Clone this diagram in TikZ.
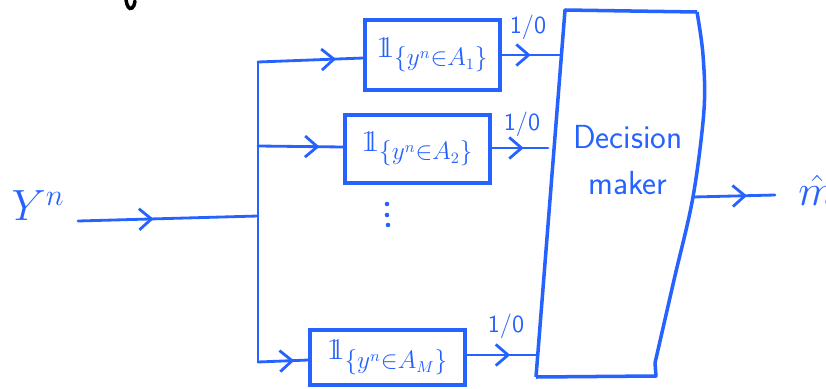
\documentclass[tikz,border=0pt]{standalone}
\usetikzlibrary{arrows.meta,decorations.markings}
\definecolor{ink}{RGB}{38,98,255}
\newcommand{\indic}{\mathrm{1}\mkern-6mu\mathrm{1}}
\tikzset{
  inkline/.style={draw=ink, line width=1.6pt, line cap=round, line join=round},
  midarrow/.style={inkline, postaction={decorate},
    decoration={markings, mark=at position #1 with {\arrow{Straight Barb[length=7pt,width=12pt]}}}},
  ibox/.style={draw=ink, line width=1.8pt, text=ink, inner sep=0pt,
    font=\fontsize{19}{22}\selectfont},
  lbl/.style={text=ink, font=\sffamily\fontsize{14}{16}\selectfont, inner sep=0pt},
  biglbl/.style={text=ink, font=\fontsize{26}{30}\selectfont, inner sep=0pt},
  dmtext/.style={text=ink, align=center, font=\sffamily\fontsize{19}{26}\selectfont, inner sep=0pt},
  dot/.style={circle, fill=ink, inner sep=0pt, minimum size=2.6pt}
}
\begin{document}
\begin{tikzpicture}[x=0.02cm, y=-0.02cm]
\useasboundingbox (0,0) rectangle (826,389);

% stray black pen mark at top
\draw[black, line width=2pt, line cap=round] (126,0) .. controls (127,6) and (129,10) .. (132,8) .. controls (134,6) .. (135,1);

% input label
\node[biglbl] (yin) at (38,206) {$Y^n$};
\coordinate (inStart) at (78,221);

% bus
\coordinate (busTop) at (258,62);
\coordinate (busMid) at (258,216);
\coordinate (busB2) at (258,146);
\coordinate (busBot) at (258,362);

% indicator boxes
\node[ibox, minimum width=2.7cm, minimum height=1.4cm] (box1) at (432.5,55) {$\indic_{\{y^n\in A_1\}}$};
\node[ibox, minimum width=2.9cm, minimum height=1.36cm] (box2) at (417.5,149) {$\indic_{\{y^n\in A_2\}}$};
\node[ibox, minimum width=3.1cm, minimum height=1.1cm] (box3) at (387.5,357.5) {$\indic_{\{y^n\in A_M\}}$};

% vertical dots
\node[dot] (dot1) at (387,204) {};
\node[dot] (dot2) at (387,215) {};
\node[dot] (dot3) at (388,225) {};

% decision maker (hand-drawn quadrilateral)
\coordinate (dTL) at (565,10);
\coordinate (dTR) at (697,12);
\coordinate (dOut) at (693,197);
\coordinate (dR2) at (655,363);
\coordinate (dBR) at (656,376);
\coordinate (dBL) at (536,377);
\draw[draw=ink, line width=2pt, line join=round]
  (dBL) -- (dTL) -- (dTR);
\draw[draw=ink, line width=2pt, line join=round]
  plot[smooth, tension=0.55] coordinates {(dTR) (703,55) (704,110) (dOut) (674,280) (dR2)}
  -- (dBR) -- (dBL);
\node[dmtext] (dm) at (628,160) {Decision\\maker};

% inputs to decision maker
\coordinate (d1) at (560,55);
\coordinate (d2) at (548,148);
\coordinate (d3) at (537,355);

% connectors
\draw[midarrow=0.42] (inStart) -- (busMid);
\draw[inkline] (busTop) -- (busBot);
\draw[midarrow=0.74] (busTop) -- (box1.west |- 0,58);
\draw[midarrow=0.72] (busB2) -- (box2.west |- 0,147);
\draw[midarrow=0.72] (busBot) -- (box3.west |- 0,360);

\draw[midarrow=0.5] (box1.east |- 0,55) -- (d1);
\draw[midarrow=0.57] (box2.east |- 0,148) -- (d2);
\draw[midarrow=0.62] (box3.east |- 0,355) -- (d3);

\node[lbl] (l1) at (528,27) {1/0};
\node[lbl] (l2) at (522,124) {1/0};
\node[lbl] (l3) at (506,326) {1/0};

% output
\coordinate (outEnd) at (775,195);
\draw[midarrow=0.66] (dOut) -- (outEnd);
\node[biglbl, anchor=west] (mhat) at (798,190) {$\hat{m}$};
\end{tikzpicture}
\end{document}
